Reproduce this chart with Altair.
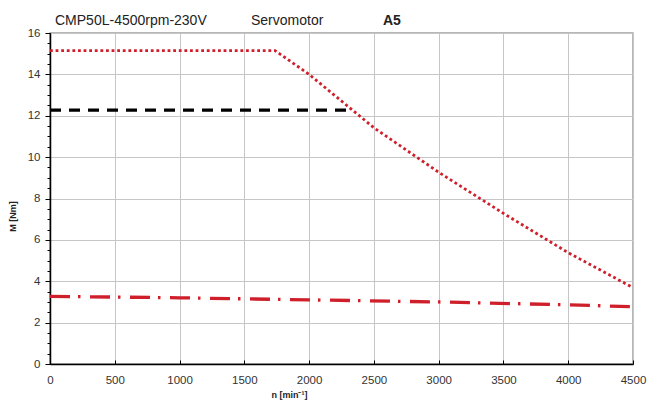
import altair as alt
import pandas as pd

# --- data ---
n_max = [0, 1737, 2000, 2500, 3000, 3500, 4000, 4500]
m_max = [15.15, 15.15, 14.0, 11.42, 9.27, 7.28, 5.38, 3.69]

n_rated = [0, 2316]
m_rated = [12.27, 12.27]

n_cont = [0, 1000, 2000, 3000, 4000, 4500]
m_cont = [3.27, 3.2, 3.1, 3.0, 2.86, 2.77]

title_texts = ["CMP50L-4500rpm-230V", "Servomotor", "A5"]
x_ticks = list(range(0, 4501, 500))
y_major = list(range(0, 17, 2))
y_minor = [i * 0.5 for i in range(0, 33)]

FONT = "Liberation Sans"
RED = "#cf1f2b"

df = pd.concat([
    pd.DataFrame({"n": n_max, "M": m_max, "s": "max"}),
    pd.DataFrame({"n": n_rated, "M": m_rated, "s": "rated"}),
    pd.DataFrame({"n": n_cont, "M": m_cont, "s": "cont"}),
])

xsc = alt.Scale(domain=[0, 4500], nice=False, zero=False)
ysc = alt.Scale(domain=[0, 16], nice=False)

xaxis = alt.Axis(values=x_ticks, format="d", title="n [min⁻¹]", titleFont=FONT, titleFontSize=9,
                 titleFontWeight="bold", titleColor="#222", titleX=239, titleY=33,
                 titleAlign="center", titleBaseline="alphabetic",
                 labelFont=FONT, labelFontSize=11.5, labelColor="#333", labelPadding=10,
                 tickSize=0, domainColor="#000", domainWidth=1.5,
                 grid=True, gridColor="#c6c6c6", gridWidth=1, labelFlush=False)

# inward ticks along the bottom edge: a top-oriented axis shifted down onto the bottom edge
xaxis_ticks = alt.Axis(values=x_ticks, orient="top", offset=-331, title=None, labels=False,
                       domain=False, grid=False, tickSize=4, tickColor="#000", tickWidth=1)

yaxis = alt.Axis(values=y_major, title="M [Nm]", titleFont=FONT, titleFontSize=9,
                 titleFontWeight="bold", titleColor="#222", titleX=-38, titleY=183,
                 titleAlign="center", titleBaseline="middle", titleAngle=270,
                 labelFont=FONT, labelFontSize=11.5, labelColor="#333", labelPadding=5,
                 tickSize=5, tickColor="#000", tickWidth=1,
                 domainColor="#000", domainWidth=1.5,
                 grid=True, gridColor="#c6c6c6", gridWidth=1)

yaxis_minor = alt.Axis(values=y_minor, title=None, labels=False, domain=False, grid=False,
                       tickSize=3, tickColor="#000", tickWidth=1, orient="left")

base = alt.Chart(df)

rated = base.transform_filter("datum.s === 'rated'").mark_line(
    color="#000", strokeWidth=3.3, strokeDash=[11, 8], strokeCap="butt"
).encode(x=alt.X("n:Q", scale=xsc, axis=xaxis), y=alt.Y("M:Q", scale=ysc, axis=yaxis))

maxc = base.transform_filter("datum.s === 'max'").mark_line(
    color=RED, strokeWidth=2.8, strokeDash=[2.8, 2.8], strokeCap="butt"
).encode(x=alt.X("n:Q", scale=xsc, axis=xaxis_ticks), y=alt.Y("M:Q", scale=ysc, axis=yaxis_minor))

cont = base.transform_filter("datum.s === 'cont'").mark_line(
    color=RED, strokeWidth=3.3, strokeDash=[20, 8, 2.5, 9.5], strokeCap="butt"
).encode(x=alt.X("n:Q", scale=xsc, axis=None), y=alt.Y("M:Q", scale=ysc, axis=None))

one = pd.DataFrame({"k": [0]})
t1 = alt.Chart(one).mark_text(text=title_texts[0], font=FONT, fontSize=14, color="#222",
                              align="left", baseline="alphabetic").encode(
    x=alt.value(5), y=alt.value(-8))
t2 = alt.Chart(one).mark_text(text=title_texts[1], font=FONT, fontSize=14, color="#222",
                              align="left", baseline="alphabetic").encode(
    x=alt.value(201), y=alt.value(-8))
t3 = alt.Chart(one).mark_text(text=title_texts[2], font=FONT, fontSize=14, color="#222",
                              fontWeight="bold", align="left", baseline="alphabetic").encode(
    x=alt.value(333), y=alt.value(-8))

chart = alt.layer(rated, maxc, cont, t1, t2, t3).resolve_axis(
    x="independent", y="independent"
).properties(
    width=583, height=331,
    autosize=alt.AutoSizeParams(type="none"),
    padding={"left": 50, "top": 33, "right": 14, "bottom": 36},
    background="#ffffff",
).configure_view(stroke="#a0a0a0", strokeWidth=1.5)

chart.save("out.html", embed_options={"renderer": "svg", "actions": False})
